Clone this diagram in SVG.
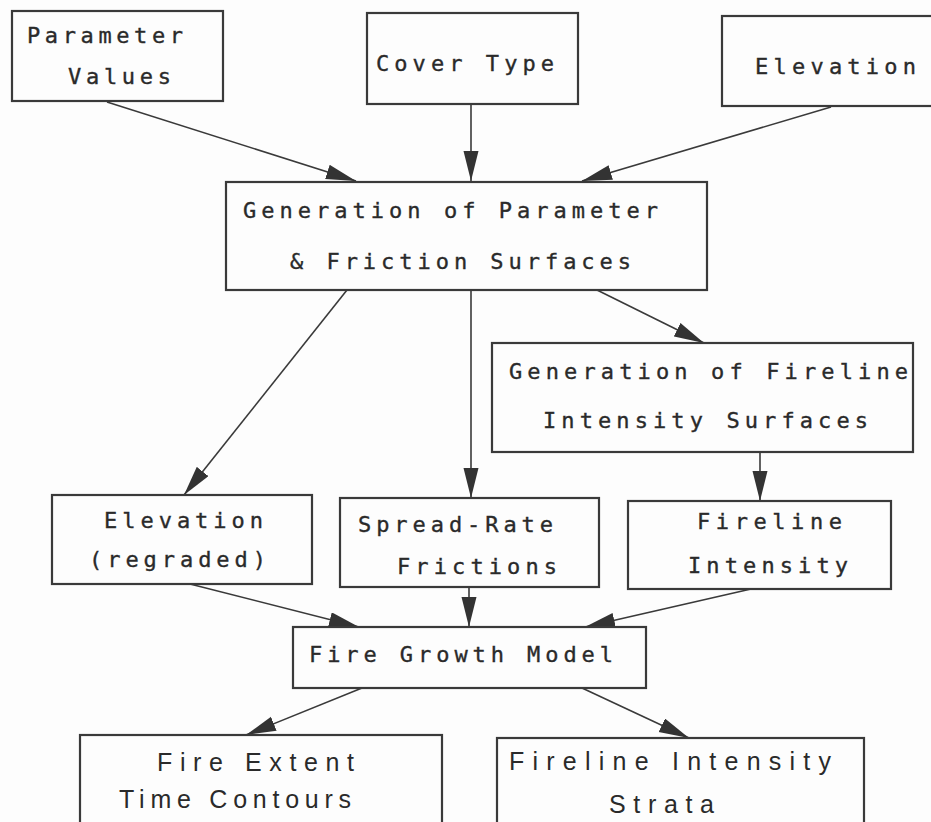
<svg xmlns="http://www.w3.org/2000/svg" width="931" height="822" viewBox="0 0 931 822">
<style>
.bg{fill:#fdfdfd}
.box{fill:none;stroke:#3a3a3a;stroke-width:2.2}
.edge{fill:none;stroke:#3a3a3a;stroke-width:1.6}
.t{font-family:"DejaVu Sans Mono","Liberation Mono",monospace;font-size:22px;fill:#2a2a2a;stroke:#2a2a2a;stroke-width:0.35}
.s{font-family:"Liberation Sans","DejaVu Sans",sans-serif;font-size:25px;fill:#2a2a2a}
</style>
<defs>
<marker id="ah" markerUnits="userSpaceOnUse" markerWidth="32" markerHeight="16" refX="30" refY="7.5" orient="auto">
<path d="M0,0 L30,7.5 L0,15 z" fill="#333"/>
</marker>
</defs>
<rect class="bg" x="0" y="0" width="931" height="822"/>
<g id="connectors">
<line class="edge" x1="107" y1="102" x2="356" y2="181" marker-end="url(#ah)"/>
<line class="edge" x1="471" y1="104" x2="471" y2="181" marker-end="url(#ah)"/>
<line class="edge" x1="831" y1="107" x2="582" y2="181" marker-end="url(#ah)"/>
<line class="edge" x1="347" y1="290" x2="184" y2="495" marker-end="url(#ah)"/>
<line class="edge" x1="471" y1="290" x2="471" y2="498" marker-end="url(#ah)"/>
<line class="edge" x1="597" y1="290" x2="704" y2="343" marker-end="url(#ah)"/>
<line class="edge" x1="760" y1="452" x2="760" y2="501" marker-end="url(#ah)"/>
<line class="edge" x1="190" y1="584" x2="359" y2="627" marker-end="url(#ah)"/>
<line class="edge" x1="469" y1="587" x2="469" y2="627" marker-end="url(#ah)"/>
<line class="edge" x1="751" y1="589" x2="585" y2="627" marker-end="url(#ah)"/>
<line class="edge" x1="362" y1="688" x2="246" y2="735" marker-end="url(#ah)"/>
<line class="edge" x1="582" y1="688" x2="689" y2="738" marker-end="url(#ah)"/>
</g>
<g id="parameter-values">
<rect class="box" x="12" y="11" width="211" height="90"/>
<text class="t" x="27" y="43" textLength="156" lengthAdjust="spacing">Parameter</text>
<text class="t" x="68" y="84" textLength="103" lengthAdjust="spacing">Values</text>
</g>
<g id="cover-type">
<rect class="box" x="367" y="13" width="211" height="91"/>
<text class="t" x="376" y="71" textLength="178" lengthAdjust="spacing">Cover Type</text>
</g>
<g id="elevation-input">
<rect class="box" x="722" y="16" width="220" height="90"/>
<text class="t" x="755" y="74" textLength="161" lengthAdjust="spacing">Elevation</text>
</g>
<g id="generation-parameter">
<rect class="box" x="226" y="182" width="481" height="108"/>
<text class="t" x="243" y="218" textLength="415" lengthAdjust="spacing">Generation of Parameter</text>
<text class="t" x="290" y="269" textLength="341" lengthAdjust="spacing">&amp; Friction Surfaces</text>
</g>
<g id="generation-fireline">
<rect class="box" x="492" y="343" width="421" height="109"/>
<text class="t" x="509" y="379" textLength="399" lengthAdjust="spacing">Generation of Fireline</text>
<text class="t" x="543" y="428" textLength="325" lengthAdjust="spacing">Intensity Surfaces</text>
</g>
<g id="elevation-regraded">
<rect class="box" x="52" y="495" width="260" height="89"/>
<text class="t" x="104" y="528" textLength="159" lengthAdjust="spacing">Elevation</text>
<text class="t" x="89" y="567" textLength="177" lengthAdjust="spacing">(regraded)</text>
</g>
<g id="spread-rate">
<rect class="box" x="340" y="498" width="259" height="89"/>
<text class="t" x="358" y="532" textLength="195" lengthAdjust="spacing">Spread-Rate</text>
<text class="t" x="397" y="574" textLength="160" lengthAdjust="spacing">Frictions</text>
</g>
<g id="fireline-intensity">
<rect class="box" x="628" y="501" width="263" height="88"/>
<text class="t" x="697" y="529" textLength="145" lengthAdjust="spacing">Fireline</text>
<text class="t" x="688" y="573" textLength="160" lengthAdjust="spacing">Intensity</text>
</g>
<g id="fire-growth-model">
<rect class="box" x="293" y="627" width="353" height="61"/>
<text class="t" x="309" y="662" textLength="304" lengthAdjust="spacing">Fire Growth Model</text>
</g>
<g id="fire-extent">
<rect class="box" x="80" y="735" width="362" height="95"/>
<text class="s" x="157" y="771" textLength="197" lengthAdjust="spacing">Fire Extent</text>
<text class="s" x="119" y="808" textLength="232" lengthAdjust="spacing">Time Contours</text>
</g>
<g id="fireline-strata">
<rect class="box" x="497" y="738" width="367" height="92"/>
<text class="s" x="509" y="770" textLength="322" lengthAdjust="spacing">Fireline Intensity</text>
<text class="s" x="609" y="813" textLength="105" lengthAdjust="spacing">Strata</text>
</g>
</svg>
